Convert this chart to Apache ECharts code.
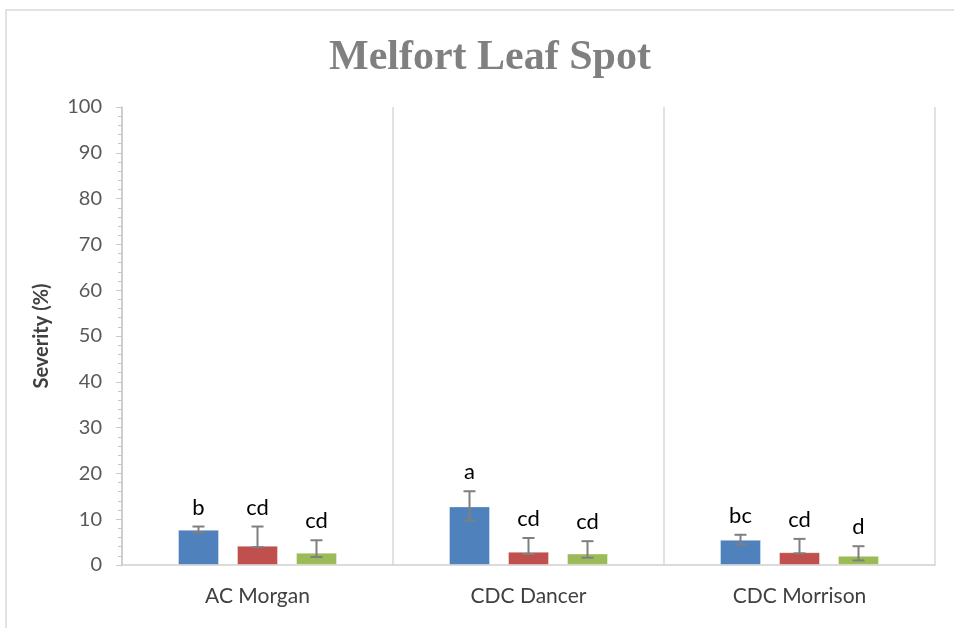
<!DOCTYPE html>
<html><head><meta charset="utf-8">
<script src="https://cdn.jsdelivr.net/npm/echarts@6/dist/echarts.min.js"></script>
<style>html,body{margin:0;padding:0;background:#fff}#c{width:954px;height:628px}</style>
</head><body><div id="c"></div>
<script>
const categories = ['AC Morgan', 'CDC Dancer', 'CDC Morrison'];
const seriesNames = ['Treatment 1', 'Treatment 2', 'Treatment 3'];
const values1 = [7.7, 12.8, 5.5];
const values2 = [4.2, 2.9, 2.8];
const values3 = [2.7, 2.5, 2.0];
const errUpper1 = [8.4, 16.1, 6.6];
const errLower1 = [7.1, 9.7, 4.5];
const errUpper2 = [8.4, 5.9, 5.7];
const errLower2 = [3.9, 2.4, 2.55];
const errUpper3 = [5.4, 5.2, 4.1];
const errLower3 = [1.75, 1.6, 1.0];
const letters1 = ['b', 'a', 'bc'];
const letters2 = ['cd', 'cd', 'cd'];
const letters3 = ['cd', 'cd', 'd'];
const yTicks = [0, 10, 20, 30, 40, 50, 60, 70, 80, 90, 100];

const colors = ['#4f81bd', '#c0504d', '#9bbb59'];
const values = [values1, values2, values3];
const ups = [errUpper1, errUpper2, errUpper3];
const lows = [errLower1, errLower2, errLower3];
const letters = [letters1, letters2, letters3];
const BAR_W = 41, GAP = 18;

const chart = echarts.init(document.getElementById('c'));
const series = [];
values.forEach((v, i) => {
  series.push({
    name: seriesNames[i], type: 'bar', data: v, barWidth: BAR_W, barGap: (GAP / BAR_W * 100) + '%',
    itemStyle: { color: colors[i], borderColor: 'rgba(255,255,255,0.35)', borderWidth: 1 },
    z: 2
  });
});
values.forEach((v, i) => {
  series.push({
    type: 'custom', z: 5,
    data: categories.map((c, k) => [k, lows[i][k], ups[i][k], letters[i][k]]),
    renderItem: function (params, api) {
      const k = api.value(0);
      const off = (i - 1) * (BAR_W + GAP);
      const pHi = api.coord([k, api.value(2)]);
      const pLo = api.coord([k, api.value(1)]);
      const x = pHi[0] + off;
      const cap = 6;
      const st = { stroke: '#7f7f7f', lineWidth: 2 };
      return {
        type: 'group', children: [
          { type: 'line', shape: { x1: x, y1: pHi[1], x2: x, y2: pLo[1] }, style: st },
          { type: 'line', shape: { x1: x - cap, y1: pHi[1], x2: x + cap, y2: pHi[1] }, style: st },
          { type: 'line', shape: { x1: x - cap, y1: pLo[1], x2: x + cap, y2: pLo[1] }, style: st },
          { type: 'text', style: { text: letters[i][k], x: x, y: pHi[1] - 8, textAlign: 'center', textVerticalAlign: 'bottom', fill: '#000', font: '22px Lato' } }
        ]
      };
    }
  });
});

chart.setOption({
  animation: false,
  title: {
    text: 'Melfort Leaf Spot', left: 485, top: 32, textAlign: 'center',
    textStyle: { fontFamily: 'Liberation Serif', fontWeight: 'bold', fontSize: 42, color: '#808080' }
  },
  graphic: [{ type: 'rect', shape: { x: 6, y: 10, width: 1000, height: 700 }, style: { fill: 'none', stroke: '#d9d9d9', lineWidth: 1.5 }, z: -10 }],
  grid: { left: 122, right: 19, top: 107, bottom: 63 },
  xAxis: {
    type: 'category', data: categories,
    axisLine: { lineStyle: { color: '#d0d0d0', width: 1.5 } },
    axisTick: { show: false },
    splitLine: { show: true, lineStyle: { color: '#d9d9d9', width: 1.5 } },
    axisLabel: { color: '#404040', fontFamily: 'Lato', fontSize: 21, margin: 21 }
  },
  yAxis: {
    type: 'value', min: 0, max: 100, interval: 10,
    name: 'Severity (%)', nameLocation: 'middle', nameGap: 70,
    nameTextStyle: { fontFamily: 'Lato', fontWeight: 'bold', fontSize: 20, color: '#404040' },
    axisLine: { show: true, lineStyle: { color: '#c8c8c8', width: 1.5 } },
    axisTick: { show: true, length: 6, lineStyle: { color: '#c8c8c8' } },
    minorTick: { show: true, splitNumber: 5, length: 4, lineStyle: { color: '#c8c8c8' } },
    splitLine: { show: false },
    axisLabel: { color: '#595959', fontFamily: 'Lato', fontSize: 20, margin: 20,
      formatter: v => yTicks.includes(v) ? String(v) : '' }
  },
  series: series
});
</script></body></html>
